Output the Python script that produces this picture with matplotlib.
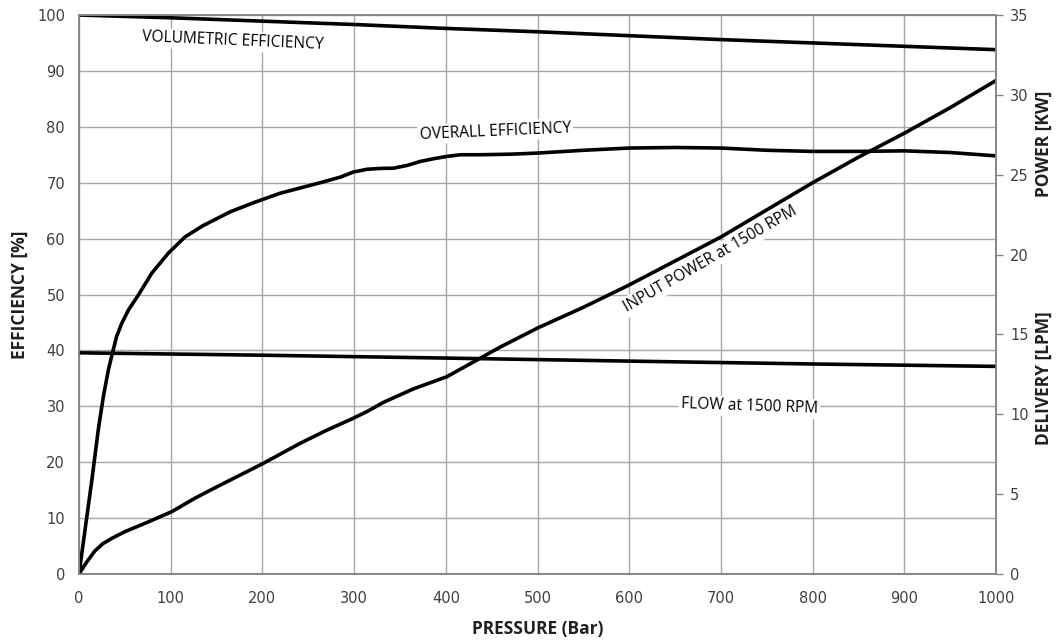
import matplotlib
matplotlib.use("Agg")
import matplotlib.pyplot as plt

# Pressure (bar) vs. curves
vol_pressure = [0, 100, 200, 300, 400, 500, 600, 700, 800, 900, 1000]
vol_eff = [100, 99.5, 98.9, 98.3, 97.6, 97.0, 96.3, 95.6, 95.0, 94.4, 93.8]

ovr_pressure = [0, 14, 21, 26.5, 32, 36.7, 41, 46.5, 53.8, 64.7, 79.3, 97.4, 115.6,
                135, 165, 190, 219, 263, 285, 299, 314, 328, 343, 358, 372, 387,
                401, 416, 437, 470, 500, 550, 600, 650, 700, 750, 800, 850, 900,
                950, 1000]
ovr_eff = [0, 16.8, 25.8, 31.7, 36.5, 39.7, 42.5, 44.8, 47.2, 49.9, 53.8, 57.4, 60.3,
           62.3, 64.8, 66.4, 68.1, 70.0, 71.0, 71.9, 72.4, 72.55, 72.6, 73.1, 73.8,
           74.3, 74.7, 75.0, 75.0, 75.1, 75.3, 75.8, 76.2, 76.3, 76.2, 75.8, 75.6,
           75.6, 75.7, 75.4, 74.8]

pow_pressure = [0, 9, 17.4, 26, 35.7, 50, 75, 101, 126.5, 150, 200, 241, 270, 299,
                315, 332, 365, 401, 434, 459, 500, 550, 600, 650, 700, 750, 800,
                850, 900, 950, 1000]
input_power = [0, 0.8, 1.45, 1.9, 2.23, 2.65, 3.25, 3.9, 4.75, 5.45, 6.9, 8.18, 9.0,
               9.75, 10.2, 10.75, 11.6, 12.35, 13.4, 14.2, 15.4, 16.7, 18.1, 19.6,
               21.1, 22.8, 24.5, 26.1, 27.6, 29.2, 30.9]

flow_pressure = [0, 200, 400, 600, 800, 1000]
flow_lpm = [13.85, 13.7, 13.52, 13.33, 13.15, 13.0]

x_ticks = list(range(0, 1001, 100))
left_ticks = list(range(0, 101, 10))
right_ticks = list(range(0, 36, 5))

grid_gray = "#a6a6a6"
spine_gray = "#868686"
tick_color = "#404040"

fig = plt.figure(figsize=(10.62, 6.41), dpi=100)
ax = fig.add_axes([0.0744, 0.1045, 0.8635, 0.8721])
ax2 = ax.twinx()

# Efficiency curves on the left axis
ax.plot(vol_pressure, vol_eff, color="black", lw=2.6, zorder=2, solid_joinstyle="round")
ax.plot(ovr_pressure, ovr_eff, color="black", lw=2.6, zorder=2, solid_joinstyle="round")

# Power and delivery curves on the right axis
ax2.plot(pow_pressure, input_power, color="black", lw=2.6, zorder=2, solid_joinstyle="round")
ax2.plot(flow_pressure, flow_lpm, color="black", lw=2.6, zorder=2, solid_joinstyle="round")

ax.set_xlim(0, 1000)
ax.set_ylim(0, 100)
ax2.set_ylim(0, 35)
ax.set_xticks(x_ticks)
ax.set_yticks(left_ticks)
ax2.set_yticks(right_ticks)

ax.grid(True, color=grid_gray, lw=1, zorder=0)
ax.set_axisbelow(True)

for a in (ax, ax2):
    for s in a.spines.values():
        s.set_color(spine_gray)
        s.set_linewidth(1.2)

ax.tick_params(axis="x", length=0, labelsize=10.5, labelcolor=tick_color, pad=12)
ax.tick_params(axis="y", length=0, labelsize=10.5, labelcolor=tick_color, pad=10)
ax2.tick_params(axis="y", length=5, color=spine_gray, width=1,
                labelsize=10.5, labelcolor=tick_color, pad=5)

label_font = dict(family="Open Sans", fontsize=12.5, fontweight="bold", color="#202020")
ax.set_xlabel("PRESSURE (Bar)", labelpad=10, **label_font)
ax.set_ylabel("EFFICIENCY [%]", labelpad=6, **label_font)
fig.text(0.983, 0.775, "POWER [KW]", rotation=90, ha="center", va="center", **label_font)
fig.text(0.983, 0.41, "DELIVERY [LPM]", rotation=90, ha="center", va="center", **label_font)

# Curve labels with white boxes over the grid
box = dict(facecolor="white", edgecolor="none", pad=1.5)
text_font = dict(family="Open Sans", fontsize=11.2, color="black", ha="center", va="center",
                 bbox=box, zorder=3)
ax.text(168, 95.3, "VOLUMETRIC EFFICIENCY", rotation=-2.5, **text_font)
ax.text(454, 79.2, "OVERALL EFFICIENCY", rotation=2.5, **text_font)
ax.text(688, 56.3, "INPUT POWER at 1500 RPM", rotation=30, rotation_mode="anchor", **text_font)
ax.text(731, 29.9, "FLOW at 1500 RPM", rotation=-2, **text_font)

fig.savefig("out.png", dpi=100)
